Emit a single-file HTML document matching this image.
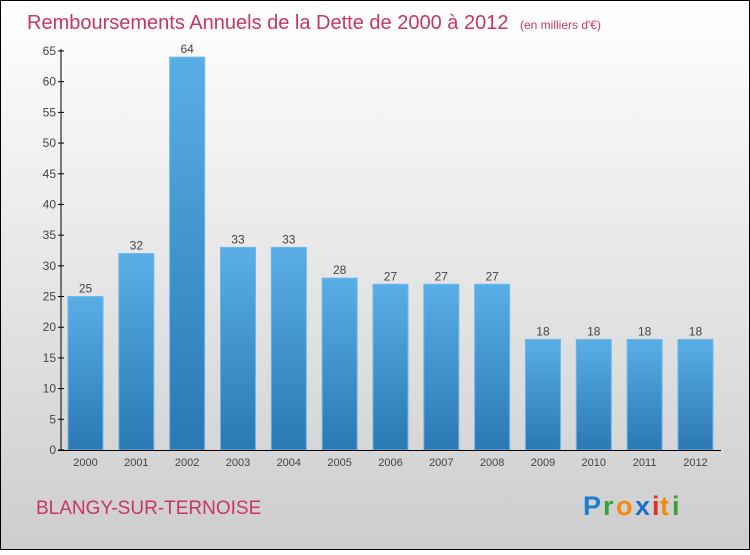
<!DOCTYPE html>
<html><head><meta charset="utf-8"><style>
body{margin:0;width:750px;height:550px;overflow:hidden;font-family:"Liberation Sans",sans-serif}
</style></head><body>
<svg id="chart" width="750" height="550" xmlns="http://www.w3.org/2000/svg">
<defs>
<linearGradient id="bg" x1="0" y1="0" x2="0" y2="1"><stop offset="0" stop-color="#ffffff"/><stop offset="1" stop-color="#cdcdcd"/></linearGradient>
<linearGradient id="bar" x1="0" y1="0" x2="0" y2="1"><stop offset="0" stop-color="#5aaee6"/><stop offset="1" stop-color="#2a78b4"/></linearGradient>
</defs>
<rect x="0.5" y="0.5" width="749" height="549" fill="url(#bg)" stroke="#000"/>
<text x="27" y="29" font-size="20" fill="#c8365f">Remboursements Annuels de la Dette de 2000 à 2012 <tspan font-size="12" dx="6">(en milliers d'€)</tspan></text>
<g id="bars"></g>
<g id="axes"></g>
<text x="36" y="514" font-size="19" fill="#c8365f">BLANGY-SUR-TERNOISE</text>
<g font-size="27" font-weight="bold">
<text x="583" y="515" fill="#1a7fd0">P</text><text x="603" y="515" fill="#3aa03a">r</text><text x="616" y="515" fill="#f08a10">o</text><text x="635" y="515" fill="#1a6fc8">x</text><text x="652" y="515" fill="#e03020">i</text><text x="660" y="515" fill="#f08a10">t</text><text x="672" y="515" fill="#3aa03a">i</text>
</g>
</svg>
<script>
const years=["2000","2001","2002","2003","2004","2005","2006","2007","2008","2009","2010","2011","2012"];
const values=[25,32,64,33,33,28,27,27,27,18,18,18,18];
const yTicks=[0,5,10,15,20,25,30,35,40,45,50,55,60,65];
const NS="http://www.w3.org/2000/svg";
const y0=450,yTop=51,yMax=65;
function y(v){return y0-(v/yMax)*(y0-yTop);}
function x(i){return 68+i*50.83;}
const bw=35;
const bars=document.getElementById('bars'),axes=document.getElementById('axes');
function mk(tag,attrs,parent){const e=document.createElementNS(NS,tag);for(const k in attrs)e.setAttribute(k,attrs[k]);parent.appendChild(e);return e;}
values.forEach((v,i)=>{
 const r=mk('rect',{x:x(i),y:y(v),width:bw,height:y0-y(v),fill:'url(#bar)',stroke:'#6ab8ee','stroke-width':1},bars);
 
 
 const t=mk('text',{x:x(i)+bw/2,y:y(v)-4,'text-anchor':'middle','font-size':12,fill:'#444'},bars);
 t.textContent=v;
 
 
 const xl=mk('text',{x:x(i)+bw/2,y:466,'text-anchor':'middle','font-size':11,fill:'#444'},axes);
 xl.textContent=years[i];
 
 
});
const ya=mk('line',{x1:61,y1:y(yMax)-2,x2:61,y2:y0,stroke:'#000'},axes);


const xa=mk('line',{x1:58,y1:y0+0.5,x2:721,y2:y0+0.5,stroke:'#000'},axes);


yTicks.forEach(v=>{
 mk('line',{x1:58,y1:y(v),x2:64,y2:y(v),stroke:'#000'},axes);
 const t=mk('text',{x:56,y:y(v)+4,'text-anchor':'end','font-size':12,fill:'#444'},axes);
 t.textContent=v;
 
 
});
</script>
</body></html>
